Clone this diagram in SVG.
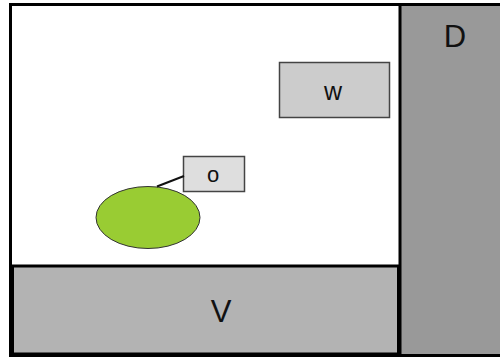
<svg xmlns="http://www.w3.org/2000/svg" width="500" height="358" viewBox="0 0 500 358">
<style>
.lbl{font-family:"Liberation Sans",Arial,sans-serif;fill:#111;text-anchor:middle}
.box{stroke:#444;stroke-width:1.5}
</style>
<rect x="0" y="0" width="500" height="358" fill="#fff"/>
<g id="frame">
<rect x="10.5" y="4.5" width="495" height="351" fill="#fff" stroke="#000" stroke-width="3"/>
</g>
<g id="D">
<rect x="401" y="6" width="99" height="348" fill="#999"/>
<line x1="400" y1="4" x2="400" y2="356" stroke="#000" stroke-width="3"/>
<text class="lbl" x="455" y="47" font-size="31">D</text>
</g>
<g id="V">
<rect x="12.5" y="266" width="386" height="88" fill="#b3b3b3" stroke="#000" stroke-width="3"/>
<text class="lbl" x="221" y="322" font-size="31">V</text>
</g>
<g id="w">
<rect class="box" x="279.5" y="62.5" width="110" height="55" fill="#cccccc"/>
<text class="lbl" x="333" y="100" font-size="25">w</text>
</g>
<g id="o">
<rect class="box" x="183.5" y="156.5" width="61" height="35" fill="#dedede"/>
<text class="lbl" x="213" y="182" font-size="22">o</text>
</g>
<g id="blob">
<ellipse cx="148" cy="217.5" rx="52" ry="31" fill="#99cc33" stroke="#333" stroke-width="1"/>
</g>
<g id="connectors">
<line x1="157" y1="186.5" x2="184" y2="176" stroke="#111" stroke-width="2"/>
</g>
</svg>
